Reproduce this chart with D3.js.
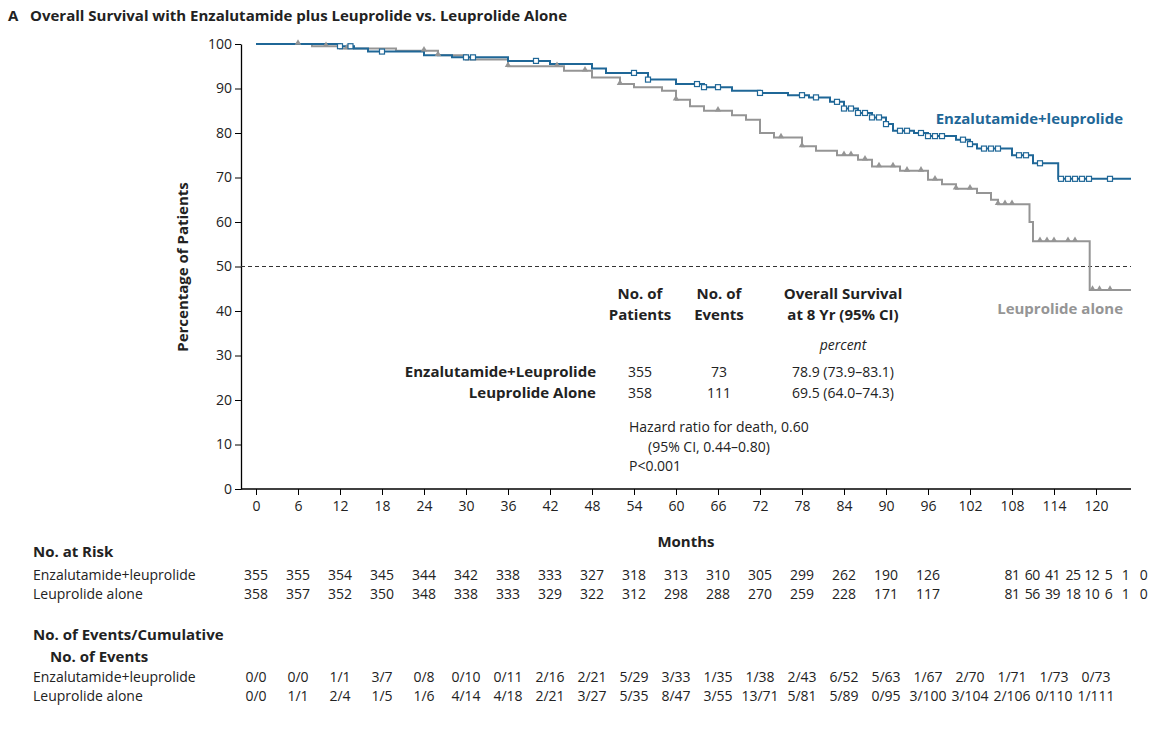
<html>
<head>
<style>
  body { margin: 0; background: white; font-family: "Open Sans", "Noto Sans", sans-serif; }
  text { fill: #222; }
</style>
<script src="https://cdn.jsdelivr.net/npm/d3@7"></script>
</head>
<body>
<svg id="chart" width="1160" height="730"></svg>
<script>
// step curves: [month, percent]
const enzaSteps = [[0,100],[12,99.5],[14,99],[16,98.3],[24,97.5],[28,97],[36,96.2],[42,95.5],[48,94.5],[50,93.5],[56,92],[60,91],[64,90.3],[68,89.5],[72,89],[76,88.5],[79,88],[82,87],[84,85.5],[86,84.5],[88,83.5],[90,82],[91,80.5],[94,80],[96,79.3],[100,78.5],[102,77.5],[103,76.5],[108,75],[111,73.2],[114.6,69.7],[125,69.7]]
const leuSteps = [[0,100],[8,99.5],[12,99],[20,98.5],[26,97.5],[30,96.5],[36,95],[44,94],[48,92.5],[52,91],[54,90.3],[58,89.5],[60,87.5],[62,86],[64,85],[68,84],[70,83],[72,80],[74,79],[78,77],[80,76],[83,75],[86,74],[88,72.5],[92,71.5],[96,69.5],[98,68.5],[100,67.5],[103,66.5],[105,65],[106,64],[110.5,60],[111,55.7],[119.1,44.7],[125,44.7]]
const enzaCensor = [12,13.5,18,30,31,40,54,56,63,64,66,72,78,80,83,84,85,86,87,88,89,90,92,93,95,96,97,98,101,102,104,105,106,109,110,112,115,116,117,118,119,122]
const leuCensor = [6,10,13,24,26,36,43,47,52,60,66,75,78,84,85,87,89,91,93,95,97,100,102,106,107,108,112,113,114,116,117,119.5,120.5,122]

const xTicks = d3.range(0, 121, 6)
const yTicks = d3.range(0, 101, 10)

const riskLabelMonths = [0,6,12,18,24,30,36,42,48,54,60,66,72,78,84,90,96,108,110.9,113.8,116.7,119.4,121.8,124.2,126.8]
const riskEnza = [355,355,354,345,344,342,338,333,327,318,313,310,305,299,262,190,126,81,60,41,25,12,5,1,0]
const riskLeu = [358,357,352,350,348,338,333,329,322,312,298,288,270,259,228,171,117,81,56,39,18,10,6,1,0]
const eventsEnza = ["0/0","0/0","1/1","3/7","0/8","0/10","0/11","2/16","2/21","5/29","3/33","1/35","1/38","2/43","6/52","5/63","1/67","2/70","1/71","1/73","0/73"]
const eventsLeu = ["0/0","1/1","2/4","1/5","1/6","4/14","4/18","2/21","3/27","5/35","8/47","3/55","13/71","5/81","5/89","0/95","3/100","3/104","2/106","0/110","1/111"]

const blue = "#1f6797", gray = "#959595"
const svg = d3.select("#chart")
const x = d3.scaleLinear().domain([0, 125]).range([256, 1131])
const y = d3.scaleLinear().domain([0, 100]).range([489, 44])

svg.append("text").attr("x", 8).attr("y", 21).attr("font-size", 15).attr("font-weight", "bold").text("A")
svg.append("text").attr("x", 30).attr("y", 21).attr("font-size", 15).attr("font-weight", "bold")
  .text("Overall Survival with Enzalutamide plus Leuprolide vs. Leuprolide Alone")

// axes
svg.append("g").attr("transform", "translate(241,0)")
  .call(d3.axisLeft(y).tickValues(yTicks).tickSize(6).tickSizeOuter(0))
  .call(g => g.selectAll("text").attr("font-size", 14).attr("font-family", "Open Sans"))
  .call(g => g.select(".domain").attr("stroke-width", 1.3))
svg.append("g").attr("transform", "translate(0,489)")
  .call(d3.axisBottom(x).tickValues(xTicks).tickSize(6).tickSizeOuter(0))
  .call(g => g.selectAll("text").attr("font-size", 14).attr("font-family", "Open Sans").attr("dy", "0.9em"))
  .call(g => g.select(".domain").attr("d", "M241,0H1131").attr("stroke-width", 1.3))

svg.append("text").attr("transform", "translate(188,267) rotate(-90)").attr("text-anchor", "middle")
  .attr("font-size", 15).attr("font-weight", "bold").text("Percentage of Patients")
svg.append("text").attr("x", 686).attr("y", 547).attr("text-anchor", "middle")
  .attr("font-size", 15).attr("font-weight", "bold").text("Months")

svg.append("line").attr("x1", 241).attr("x2", 1131).attr("y1", y(50)).attr("y2", y(50))
  .attr("stroke", "#333").attr("stroke-dasharray", "4,3")

const line = d3.line().x(d => x(d[0])).y(d => y(d[1])).curve(d3.curveStepAfter)
function stepAt(steps, m) {
  let v = steps[0][1]
  for (const s of steps) if (s[0] <= m) v = s[1]
  return v
}
svg.append("path").attr("d", line(leuSteps)).attr("fill", "none").attr("stroke", gray).attr("stroke-width", 2)
svg.append("path").attr("d", line(enzaSteps)).attr("fill", "none").attr("stroke", blue).attr("stroke-width", 2)
svg.selectAll(".lc").data(leuCensor).enter().append("path")
  .attr("d", d3.symbol(d3.symbolTriangle, 18))
  .attr("transform", d => `translate(${x(d)},${y(stepAt(leuSteps, d)) - 1})`).attr("fill", gray)
svg.selectAll(".ec").data(enzaCensor).enter().append("rect")
  .attr("x", d => x(d) - 2.5).attr("y", d => y(stepAt(enzaSteps, d)) - 2.5)
  .attr("width", 5).attr("height", 5).attr("fill", "white").attr("stroke", blue).attr("stroke-width", 1.2)

svg.append("text").attr("x", 1123).attr("y", 124).attr("text-anchor", "end").attr("font-size", 15)
  .attr("font-weight", "bold").style("fill", blue).text("Enzalutamide+leuprolide")
svg.append("text").attr("x", 1123).attr("y", 314).attr("text-anchor", "end").attr("font-size", 15)
  .attr("font-weight", "bold").style("fill", gray).text("Leuprolide alone")

// inset table
const head = [[640, ["No. of", "Patients"]], [719, ["No. of", "Events"]], [843, ["Overall Survival", "at 8 Yr (95% CI)"]]]
head.forEach(h => h[1].forEach((t, i) => svg.append("text").attr("x", h[0]).attr("y", 299 + i * 21)
  .attr("text-anchor", "middle").attr("font-size", 15).attr("font-weight", "bold").text(t)))
svg.append("text").attr("x", 843).attr("y", 350).attr("text-anchor", "middle").attr("font-size", 14)
  .attr("font-style", "italic").text("percent")
const stats = [["Enzalutamide+Leuprolide", "355", "73", "78.9 (73.9–83.1)"], ["Leuprolide Alone", "358", "111", "69.5 (64.0–74.3)"]]
stats.forEach((r, i) => {
  const yy = 377 + i * 21
  svg.append("text").attr("x", 596).attr("y", yy).attr("text-anchor", "end").attr("font-size", 15).attr("font-weight", "bold").text(r[0])
  svg.append("text").attr("x", 640).attr("y", yy).attr("text-anchor", "middle").attr("font-size", 14).text(r[1])
  svg.append("text").attr("x", 719).attr("y", yy).attr("text-anchor", "middle").attr("font-size", 14).text(r[2])
  svg.append("text").attr("x", 843).attr("y", yy).attr("text-anchor", "middle").attr("font-size", 14).text(r[3])
})
svg.append("text").attr("x", 629).attr("y", 432).attr("font-size", 14).text("Hazard ratio for death, 0.60")
svg.append("text").attr("x", 648).attr("y", 452).attr("font-size", 14).text("(95% CI, 0.44–0.80)")
svg.append("text").attr("x", 629).attr("y", 471).attr("font-size", 14).text("P<0.001")

// lower tables
function rowLabel(t, yy, bold) {
  svg.append("text").attr("x", 33).attr("y", yy).attr("font-size", bold ? 15 : 14)
    .attr("font-weight", bold ? "bold" : "normal").text(t)
}
rowLabel("No. at Risk", 557, true)
rowLabel("Enzalutamide+leuprolide", 580)
rowLabel("Leuprolide alone", 599)
rowLabel("No. of Events/Cumulative", 640, true)
svg.append("text").attr("x", 50).attr("y", 662).attr("font-size", 15).attr("font-weight", "bold").text("No. of Events")
rowLabel("Enzalutamide+leuprolide", 682)
rowLabel("Leuprolide alone", 701)

function numRow(vals, months, yy, ls) {
  svg.selectAll(null).data(vals).enter().append("text")
    .attr("x", (d, i) => x(months[i])).attr("y", yy).attr("text-anchor", "middle").attr("font-size", 14)
    .attr("letter-spacing", (d, i) => i > 16 && ls ? -0.5 : 0).text(d => d)
}
numRow(riskEnza, riskLabelMonths, 580, true)
numRow(riskLeu, riskLabelMonths, 599, true)
numRow(eventsEnza, xTicks, 682)
numRow(eventsLeu, xTicks, 701)
</script>
</body>
</html>
